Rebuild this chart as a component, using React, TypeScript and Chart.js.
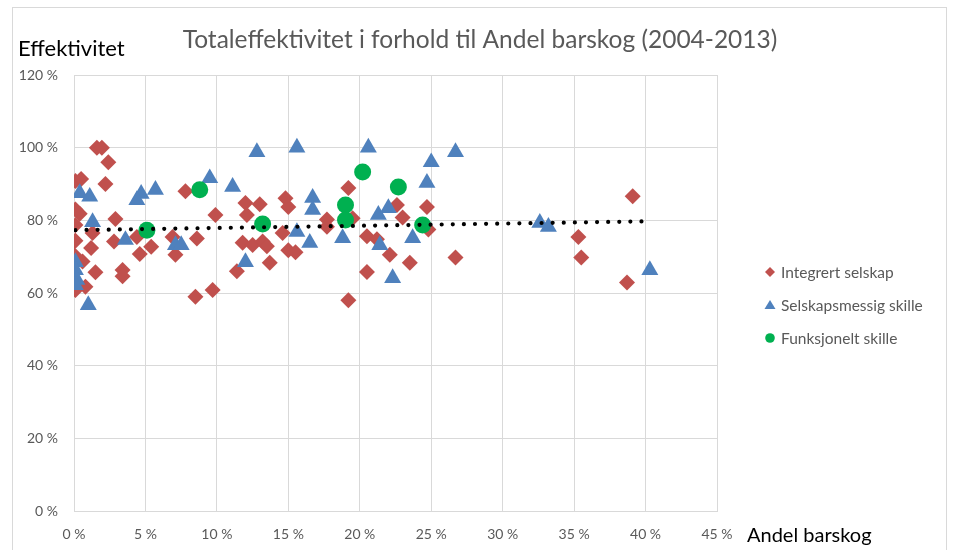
import React, { useEffect, useRef } from "react";
import { Chart, registerables } from "chart.js";

Chart.register(...registerables);

const FONT = "Lato, 'Open Sans', sans-serif";

const chartTitle = "Totaleffektivitet i forhold til Andel barskog (2004-2013)";
const yAxisTitle = "Effektivitet";
const xAxisTitle = "Andel barskog";

const xTickValues = [0, 5, 10, 15, 20, 25, 30, 35, 40, 45];
const yTickValues = [0, 20, 40, 60, 80, 100, 120];

const seriesNames = ["Integrert selskap", "Selskapsmessig skille", "Funksjonelt skille"];

// Integrert selskap (x = andel barskog %, y = effektivitet %)
const integrertX = [1.6, 1.95, 2.4, 0.1, 0.5, 2.2, 7.8, 9.9, 0.1, 0.4, 0.1, 2.9, 1.3, 0.1, 2.8, 4.4, 1.2, 0.0, 4.6, 5.4, 7.1, 6.9, 8.6, 1.5, 3.4, 3.4, 0.8, 0.1, 8.5, 9.7, 11.4, 12.0, 13.0, 14.8, 15.0, 12.1, 11.8, 12.5, 13.2, 13.5, 13.7, 14.6, 15.0, 15.5, 17.7, 17.7, 19.2, 19.2, 19.5, 20.5, 21.2, 20.5, 22.1, 22.6, 23.0, 23.5, 24.7, 24.8, 26.7, 35.3, 35.5, 39.1, 38.7, 0.6];
const integrertY = [100, 100, 96, 90.8, 91.4, 90, 88, 81.5, 83, 81.8, 78.7, 80.4, 76.5, 74.4, 74.2, 75.4, 72.4, 70.5, 70.7, 72.7, 70.5, 75.4, 75, 65.7, 66.3, 64.6, 61.7, 60.8, 59, 60.8, 66, 84.8, 84.4, 86.1, 83.7, 81.5, 73.8, 73.2, 74.2, 72.9, 68.3, 76.5, 71.8, 71.2, 80.2, 78.2, 88.9, 58, 80.6, 75.6, 74.8, 65.8, 70.5, 84.2, 80.8, 68.3, 83.7, 77.5, 69.8, 75.4, 69.8, 86.6, 62.9, 68.7];

// Selskapsmessig skille
const selskapX = [0.4, 1.1, 4.7, 4.4, 5.7, 9.5, 11.1, 1.3, 3.6, 7.1, 7.5, 0.1, 0.1, 0.2, 0.1, 1.0, 12.8, 15.6, 20.6, 16.7, 16.7, 15.6, 16.5, 12.0, 18.8, 21.3, 22.0, 21.4, 22.3, 23.7, 26.7, 25.0, 24.7, 32.6, 33.2, 40.3];
const selskapY = [87.5, 86.5, 87.3, 85.6, 88.4, 91.6, 89.2, 79.5, 74.6, 73.2, 73.2, 68.5, 66.3, 63.6, 62.2, 56.7, 98.8, 100, 100, 86.2, 82.9, 76.8, 73.8, 68.5, 75.1, 81.5, 83.4, 73.2, 64.1, 75.1, 98.8, 96, 90.3, 79.3, 78.2, 66.3];

// Funksjonelt skille
const funksjoneltX = [8.8, 5.1, 13.2, 20.2, 19.0, 19.0, 22.7, 24.4];
const funksjoneltY = [88.4, 77.3, 79, 93.3, 84.2, 80.1, 89.2, 78.7];

// Linear trend line (dotted)
const trendX = [0.1, 39.8];
const trendY = [77.3, 79.7];

const colors = ["#C0504D", "#4F81BD", "#00B050"];

const toPoints = (xs: number[], ys: number[]) => xs.map((x, i) => ({ x, y: ys[i] }));

export default function App() {
  const ref = useRef<HTMLCanvasElement>(null);

  useEffect(() => {
    document.body.style.margin = "0";
    const canvas = ref.current;
    if (!canvas) return;

    const decor = {
      id: "decor",
      beforeDraw(chart: any) {
        const c = chart.ctx;
        c.save();
        c.fillStyle = "#ffffff";
        c.fillRect(0, 0, chart.width, chart.height);
        c.strokeStyle = "#d9d9d9";
        c.lineWidth = 1;
        c.strokeRect(12.5, 7.5, 934, 600);
        c.restore();
      },
      afterDraw(chart: any) {
        const c = chart.ctx;
        c.save();
        c.textBaseline = "middle";
        // title
        c.fillStyle = "#595959";
        c.font = `24.5px ${FONT}`;
        c.textAlign = "center";
        c.fillText(chartTitle, 480, 40);
        // axis titles
        c.fillStyle = "#000000";
        c.textAlign = "left";
        c.font = `22px ${FONT}`;
        c.fillText(yAxisTitle, 18, 49);
        c.font = `20px ${FONT}`;
        c.fillText(xAxisTitle, 747, 536);
        // legend
        const ys = [272, 305, 338];
        c.font = `15.5px ${FONT}`;
        seriesNames.forEach((name, i) => {
          const mx = 770;
          const my = ys[i];
          c.fillStyle = colors[i];
          c.beginPath();
          if (i === 0) {
            c.moveTo(mx - 5, my);
            c.lineTo(mx, my - 5);
            c.lineTo(mx + 5, my);
            c.lineTo(mx, my + 5);
          } else if (i === 1) {
            c.moveTo(mx, my - 5);
            c.lineTo(mx + 5.5, my + 4);
            c.lineTo(mx - 5.5, my + 4);
          } else {
            c.arc(mx, my, 4.8, 0, Math.PI * 2);
          }
          c.closePath();
          c.fill();
          c.fillStyle = "#595959";
          c.fillText(name, 781, my + 1);
        });
        c.restore();
      },
    };

    const chart = new Chart(canvas, {
      type: "scatter",
      data: {
        datasets: [
          {
            type: "line" as any,
            label: "trend",
            data: toPoints(trendX, trendY),
            showLine: true,
            borderColor: "#000000",
            borderWidth: 4.2,
            borderDash: [0, 11.1],
            borderCapStyle: "round",
            pointRadius: 0,
            fill: false,
            order: 0,
          } as any,
          {
            label: seriesNames[2],
            data: toPoints(funksjoneltX, funksjoneltY),
            pointStyle: "circle",
            pointRadius: 8.5,
            pointHoverRadius: 8.5,
            pointBorderWidth: 0,
            backgroundColor: colors[2],
            borderColor: colors[2],
            order: 1,
          },
          {
            label: seriesNames[1],
            data: toPoints(selskapX, selskapY),
            pointStyle: "triangle",
            pointRadius: 9.8,
            pointHoverRadius: 9.8,
            pointBorderWidth: 0,
            backgroundColor: colors[1],
            borderColor: colors[1],
            order: 2,
          },
          {
            label: seriesNames[0],
            data: toPoints(integrertX, integrertY),
            pointStyle: "rectRot",
            pointRadius: 8,
            pointHoverRadius: 8,
            pointBorderWidth: 0,
            backgroundColor: colors[0],
            borderColor: colors[0],
            order: 3,
          },
        ],
      },
      options: {
        responsive: false,
        animation: false,
        events: [],
        layout: { padding: { left: 0, top: 75, right: 238, bottom: 0 } },
        plugins: {
          legend: { display: false },
          title: { display: false },
          tooltip: { enabled: false },
        },
        scales: {
          x: {
            type: "linear",
            min: 0,
            max: 45,
            afterFit: (s: any) => {
              s.height = 39;
            },
            afterBuildTicks: (s: any) => {
              s.ticks = xTickValues.map((v) => ({ value: v }));
            },
            grid: { color: "#d9d9d9", lineWidth: 1, drawTicks: false },
            border: { color: "#d9d9d9", width: 1 },
            ticks: {
              padding: 15,
              color: "#595959",
              font: { family: FONT, size: 14 },
              callback: (v: any) => `${v} %`,
            },
          },
          y: {
            type: "linear",
            min: 0,
            max: 120,
            afterFit: (s: any) => {
              s.width = 74;
            },
            afterBuildTicks: (s: any) => {
              s.ticks = yTickValues.map((v) => ({ value: v }));
            },
            grid: { color: "#d9d9d9", lineWidth: 1, drawTicks: false },
            border: { color: "#d9d9d9", width: 1 },
            ticks: {
              padding: 16,
              color: "#595959",
              font: { family: FONT, size: 14 },
              callback: (v: any) => `${v} %`,
            },
          },
        },
      },
      plugins: [decor],
    });

    return () => chart.destroy();
  }, []);

  return (
    <div style={{ width: 955, height: 550, position: "relative" }}>
      <canvas ref={ref} width={955} height={550} style={{ display: "block" }} />
    </div>
  );
}
